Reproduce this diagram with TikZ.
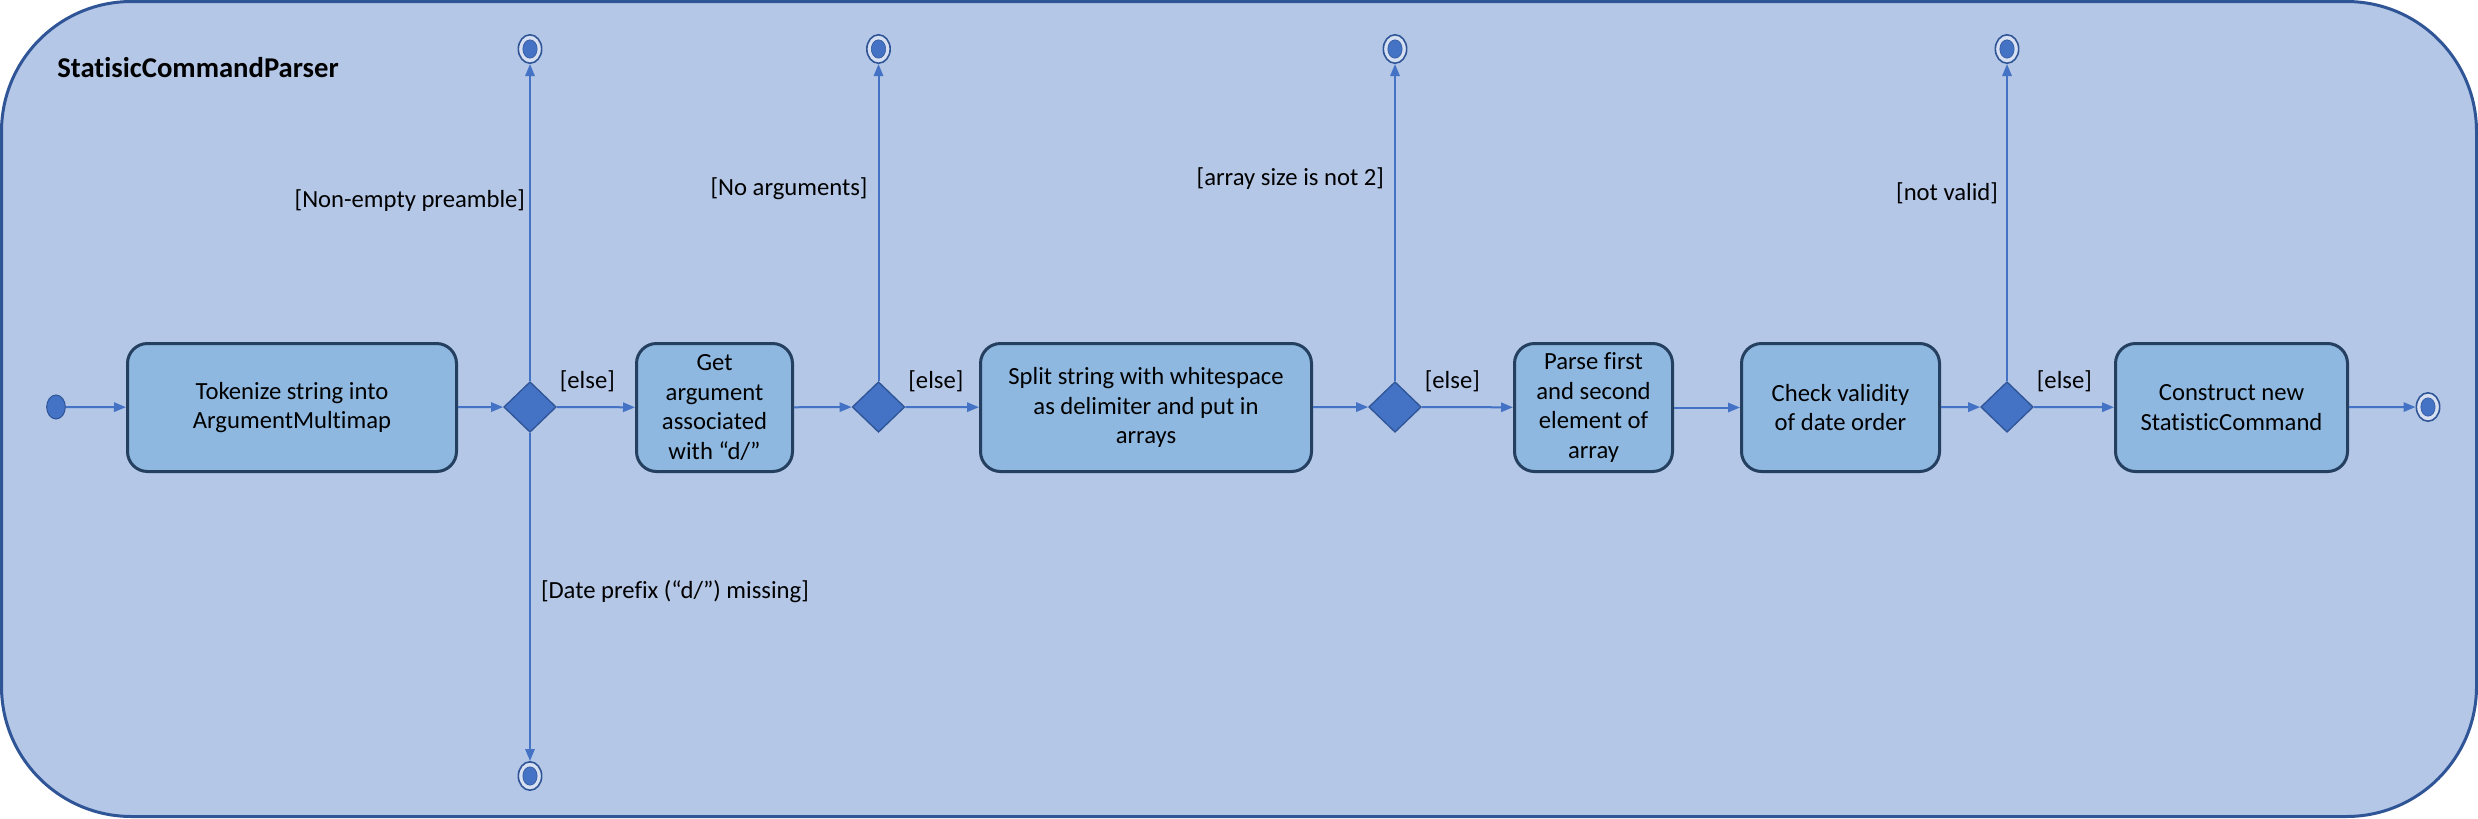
\documentclass[tikz,border=0pt]{standalone}
\usepackage{fontspec}
\setmainfont{Carlito}[Ligatures={NoCommon}]
\usetikzlibrary{arrows.meta,shapes.geometric}

\definecolor{framefill}{HTML}{B4C7E7}
\definecolor{frameline}{HTML}{2F5597}
\definecolor{actfill}{HTML}{8EB8E0}
\definecolor{actline}{HTML}{243F60}
\definecolor{flow}{HTML}{4472C4}
\definecolor{ringline}{HTML}{2F5597}
\definecolor{ringgap}{HTML}{D6E0F2}

\begin{document}
\begin{tikzpicture}[x=0.75pt,y=-0.75pt,->,>={Triangle[length=9pt,width=7pt]},
  every node/.style={font=\fontsize{18.5}{22.1}\selectfont},
  every edge/.style={draw=flow,line width=1.5pt},
  act/.style={rectangle,rounded corners=15pt,draw=actline,line width=2.25pt,fill=actfill,align=center,minimum height=96pt,inner sep=0pt},
  choice/.style={diamond,draw=ringline,line width=1pt,fill=flow,minimum width=39.4pt,minimum height=37.9pt,inner sep=0pt},
  startdot/.style={ellipse,draw=ringline,line width=0.75pt,fill=flow,minimum width=14pt,minimum height=18pt,inner sep=0pt},
  final/.style={ellipse,draw=ringline,line width=1.2pt,fill=ringgap,minimum width=17.5pt,minimum height=21.3pt,inner sep=0pt,
    path picture={\filldraw[fill=flow,draw=ringline,line width=0.4pt] (path picture bounding box.center) ellipse (5.4pt and 6.9pt);}},
  guard/.style={inner sep=1.5pt},
  elselbl/.style={inner sep=1.5pt,pos=0,anchor=south west,yshift=9pt}]

  \useasboundingbox (0,0) rectangle (2478,818);
  \draw[-,draw=frameline,line width=2.25pt,fill=framefill,rounded corners=97.5pt] (1.5,1.5) rectangle (2476.5,816.5);

  \node[anchor=base west,inner sep=0pt,font=\fontsize{21.5}{25}\selectfont\bfseries] (title) at (57,77.5) {StatisicCommandParser};

  \node[startdot] (start) at (56,407) {};
  \node[act,minimum width=246.75pt] (tok)    at (292,407.5)  {Tokenize string into\\ArgumentMultimap};
  \node[choice] (d1) at (530,407) {};
  \node[act,minimum width=117pt]    (getarg) at (714.5,407.5) {Get\\argument\\associated\\with “d/”};
  \node[choice] (d2) at (878.5,407) {};
  \node[act,minimum width=248.25pt] (split)  at (1146,407.5)  {Split string with whitespace\\as delimiter and put in\\arrays};
  \node[choice] (d3) at (1395,407) {};
  \node[act,minimum width=118.5pt]  (parse)  at (1593.5,407.5) {Parse first\\and second\\element of\\array};
  \node[act,minimum width=148.5pt]  (check)  at (1840.5,407.5) {Check validity\\of date order};
  \node[choice] (d4) at (2007,407) {};
  \node[act,minimum width=174pt]    (make)   at (2231.5,407.5) {Construct new\\StatisticCommand};

  \node[final] (f1) at (530,49) {};
  \node[final] (f2) at (878.5,49) {};
  \node[final] (f3) at (1395,49) {};
  \node[final] (f4) at (2007,49) {};
  \node[final] (f5) at (530,776) {};
  \node[final] (fend) at (2428,407) {};

  \path (start) edge (tok)
        (tok) edge (d1)
        (d1) edge node[elselbl] {[else]} (getarg)
             edge node[guard,left=1.5pt,pos=.57] {[Non-empty preamble]} (f1)
             edge node[guard,right=6pt,pos=.485] {[Date prefix (“d/”) missing]} (f5)
        (getarg) edge (d2)
        (d2) edge node[elselbl] {[else]} (split)
             edge node[guard,left=6pt,pos=.607] {[No arguments]} (f2)
        (split) edge (d3)
        (d3) edge node[elselbl] {[else]} (parse)
             edge node[guard,left=6pt,pos=.64] {[array size is not 2]} (f3)
        (parse) edge (check)
        (check) edge (d4)
        (d4) edge node[elselbl] {[else]} (make)
             edge node[guard,left=4.5pt,pos=.593] {[not valid]} (f4)
        (make) edge (fend);
\end{tikzpicture}
\end{document}
